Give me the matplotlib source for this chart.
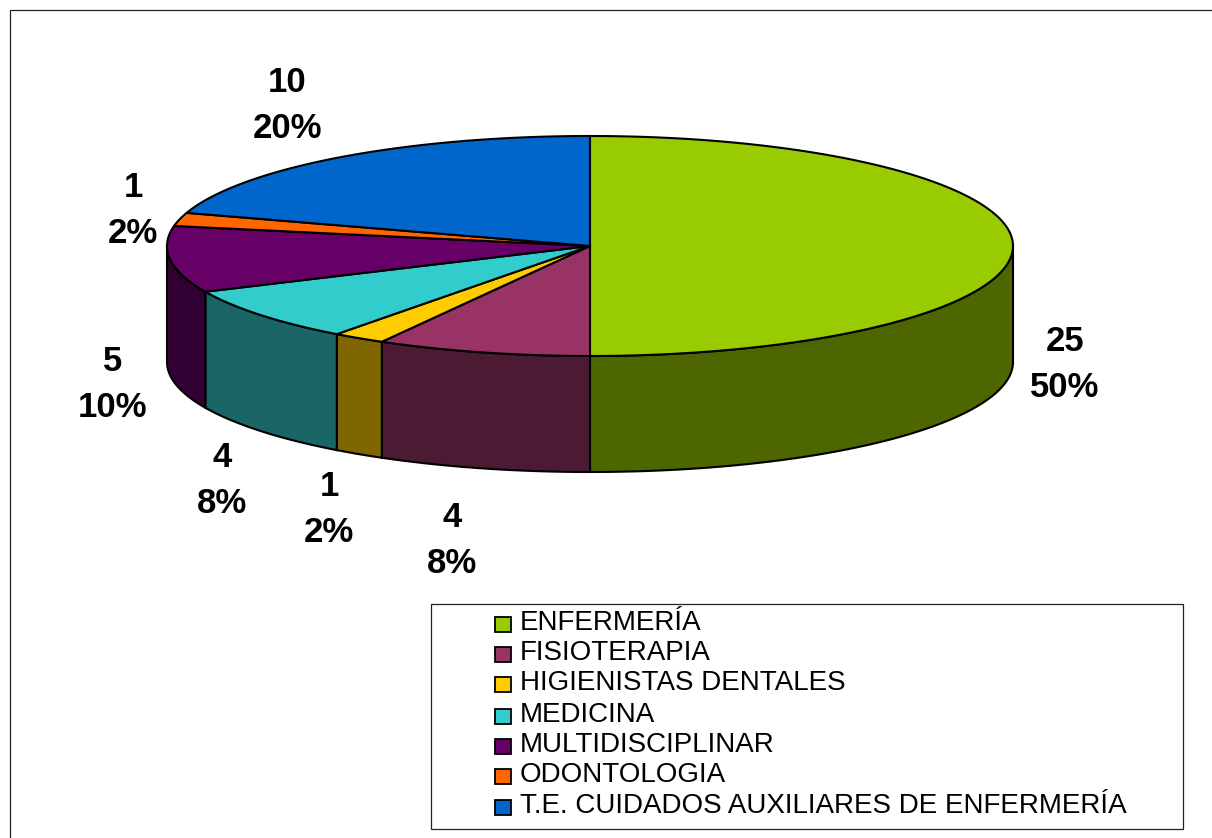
import numpy as np
import matplotlib
matplotlib.use('Agg')
import matplotlib.pyplot as plt
from matplotlib.patches import Polygon, Rectangle

plt.rcParams['font.family'] = ['Liberation Sans', 'DejaVu Sans']

## data
categories = ['ENFERMERÍA', 'FISIOTERAPIA', 'HIGIENISTAS DENTALES', 'MEDICINA',
              'MULTIDISCIPLINAR', 'ODONTOLOGIA', 'T.E. CUIDADOS AUXILIARES DE ENFERMERÍA']
values = [25, 4, 1, 4, 5, 1, 10]
percents = ['50%', '8%', '2%', '8%', '10%', '2%', '20%']
top_colors = ['#99CC00', '#993366', '#FFCC00', '#33CCCC', '#660066', '#FF6600', '#0066CC']
side_colors = ['#4D6600', '#4D1A33', '#806600', '#1A6666', '#330033', '#803300', '#003366']
label_pos = [(1065, 364), (452, 540), (329, 509), (222, 480), (113, 384), (133, 210), (287, 105)]
legend_rows = [622.5, 652.5, 682.5, 714.5, 744.5, 774.5, 805.5]

# pie geometry in image pixels
cx, cy = 590, 246
rx, ry = 423, 110
depth = 116

def rim(a0, a1, n=200):
    # angles in degrees, clockwise from 12 o'clock
    # small warp because the original's projection isn't a pure ellipse
    a = np.linspace(a0, a1, n)
    t = np.radians(a + 0.8*np.sin(np.radians(2*a)))
    return cx + rx*np.sin(t), cy - ry*np.cos(t)

fig = plt.figure(figsize=(12.12, 8.38), dpi=100)
ax = fig.add_axes([0, 0, 1, 1])
ax.set_xlim(0, 1212)
ax.set_ylim(838, 0)
ax.axis('off')

# outer frame
ax.add_patch(Rectangle((9.5, 10.5), 1300, 900, fc='white', ec='#222222', lw=0.9, zorder=0))

edges = np.cumsum([0] + values) / sum(values) * 360

# side walls, only the front half (90..270 degrees) is visible
for i in range(len(values)):
    a0 = max(edges[i], 90)
    a1 = min(edges[i+1], 270)
    if a1 <= a0:
        continue
    x, y = rim(a0, a1)
    xy = np.r_[np.c_[x, y], np.c_[x[::-1], y[::-1] + depth]]
    ax.add_patch(Polygon(xy, closed=True, fc=side_colors[i], ec='black', lw=1.5, zorder=2))

# top of the pie
for i in range(len(values)):
    x, y = rim(edges[i], edges[i+1])
    xy = np.r_[[[cx, cy]], np.c_[x, y]]
    ax.add_patch(Polygon(xy, closed=True, fc=top_colors[i], ec='black', lw=1.5, zorder=3))

# data labels
for v, p, (lx, ly) in zip(values, percents, label_pos):
    ax.text(lx, ly, '%d\n%s' % (v, p), ha='center', va='center', fontsize=25,
            fontweight='bold', linespacing=1.5, color='black', zorder=5)

# legend box
ax.add_patch(Rectangle((431, 603.5), 752, 225.5, fc='white', ec='#222222', lw=0.9, zorder=4))
for i, name in enumerate(categories):
    yy = legend_rows[i]
    ax.add_patch(Rectangle((495, yy - 6), 15.5, 15, fc=top_colors[i], ec='black', lw=1.3, zorder=5))
    ax.text(520, yy, name, ha='left', va='center', fontsize=20, color='black', zorder=5)

fig.savefig('out.png', dpi=100)
